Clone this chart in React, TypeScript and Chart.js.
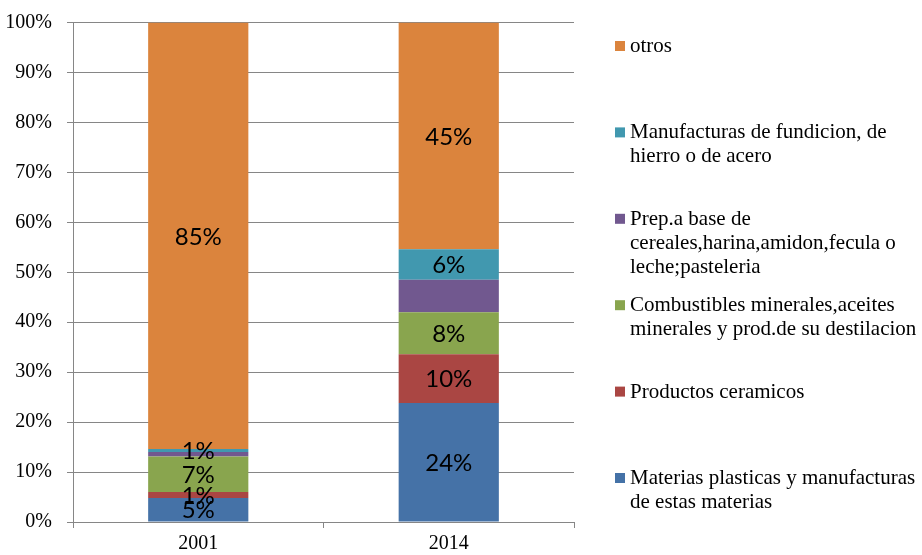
import React, { useEffect, useRef } from "react";
import { Chart, registerables } from "chart.js";

Chart.register(...registerables);

const categories = ["2001", "2014"];

const seriesNames = [
  "Materias plasticas y manufacturas de estas materias",
  "Productos ceramicos",
  "Combustibles minerales,aceites minerales y prod.de su destilacion",
  "Prep.a base de cereales,harina,amidon,fecula o leche;pasteleria",
  "Manufacturas de fundicion, de hierro o de acero",
  "otros",
];

const legendLines = [
  ["Materias plasticas y manufacturas", "de estas materias"],
  ["Productos ceramicos"],
  ["Combustibles minerales,aceites", "minerales y prod.de su destilacion"],
  ["Prep.a base de", "cereales,harina,amidon,fecula o", "leche;pasteleria"],
  ["Manufacturas de fundicion, de", "hierro o de acero"],
  ["otros"],
];

const materiasPlasticas = [4.8, 23.8];
const productosCeramicos = [1.2, 9.8];
const combustibles = [7.1, 8.4];
const prepCereales = [0.9, 6.5];
const manufacturasHierro = [0.6, 6.1];
const otros = [85.4, 45.4];

const seriesValues = [
  materiasPlasticas,
  productosCeramicos,
  combustibles,
  prepCereales,
  manufacturasHierro,
  otros,
];

const showValueLabels = [true, true, true, false, true, true];

const colors = ["#4572A7", "#AA4643", "#89A54E", "#71588F", "#4198AF", "#DB843D"];

const yTicks = [0, 10, 20, 30, 40, 50, 60, 70, 80, 90, 100];

const valueLabelPlugin = {
  id: "valueLabels",
  afterDatasetsDraw(chart: any) {
    const ctx = chart.ctx;
    ctx.save();
    ctx.font = "24px Lato";
    ctx.fillStyle = "#000000";
    ctx.textAlign = "center";
    ctx.textBaseline = "middle";
    chart.data.datasets.forEach((ds: any, di: number) => {
      if (!showValueLabels[di]) return;
      const meta = chart.getDatasetMeta(di);
      meta.data.forEach((el: any, i: number) => {
        const { x, y, base } = el.getProps(["x", "y", "base"], true);
        const v = ds.data[i];
        ctx.fillText(Math.round(v) + "%", x, (y + base) / 2 + 1);
      });
    });
    ctx.restore();
  },
};

const legendPlugin = {
  id: "sideLegend",
  afterDraw(chart: any) {
    const ctx = chart.ctx;
    ctx.save();
    ctx.font = '21px "Liberation Serif"';
    ctx.textAlign = "left";
    ctx.textBaseline = "middle";
    const n = chart.data.datasets.length;
    const top = 46.5;
    const step = 86.4;
    const lineH = 24;
    for (let k = 0; k < n; k++) {
      const di = n - 1 - k;
      const ds = chart.data.datasets[di];
      const yc = top + k * step;
      ctx.fillStyle = ds.backgroundColor;
      ctx.fillRect(615, yc - 5.5, 10, 10);
      ctx.fillStyle = "#000000";
      legendLines[di].forEach((line: string, li: number) => {
        ctx.fillText(line, 630, yc + li * lineH);
      });
    }
    ctx.restore();
  },
};

export default function App() {
  const ref = useRef<HTMLCanvasElement | null>(null);
  useEffect(() => {
    if (!ref.current) return;
    const chart = new Chart(ref.current, {
      type: "bar",
      data: {
        labels: categories,
        datasets: seriesNames.map((name, i) => ({
          label: name,
          data: seriesValues[i],
          backgroundColor: colors[i],
          borderWidth: 0,
          barPercentage: 0.4,
          categoryPercentage: 1,
        })),
      },
      options: {
        animation: false,
        responsive: false,
        devicePixelRatio: 1,
        layout: { padding: { top: 22.5, right: 348, left: 0, bottom: 0 } },
        plugins: {
          legend: { display: false },
          tooltip: { enabled: false },
        },
        scales: {
          x: {
            stacked: true,
            afterFit: (s: any) => {
              s.height = 33;
              s.paddingLeft = 0;
              s.paddingRight = 0;
            },
            border: { color: "#868686", width: 1 },
            grid: {
              drawOnChartArea: false,
              drawTicks: true,
              tickLength: 6,
              color: "#868686",
              offset: true,
            },
            ticks: {
              color: "#000000",
              font: { family: "Liberation Serif", size: 20 },
              padding: 4,
            },
          },
          y: {
            stacked: true,
            min: 0,
            max: 100,
            afterFit: (s: any) => {
              s.width = 73;
              s.paddingTop = 0;
              s.paddingBottom = 0;
            },
            afterBuildTicks: (s: any) => {
              s.ticks = yTicks.map((v) => ({ value: v }));
            },
            border: { color: "#868686", width: 1 },
            grid: {
              color: "#868686",
              lineWidth: 1,
              tickLength: 6,
            },
            ticks: {
              color: "#000000",
              font: { family: "Liberation Serif", size: 20 },
              padding: 15,
              callback: (v: any) => v + "%",
            },
          },
        },
      },
      plugins: [valueLabelPlugin, legendPlugin],
    });
    return () => chart.destroy();
  }, []);
  return (
    <div style={{ position: "fixed", left: 0, top: 0, width: 922, height: 555, background: "#ffffff" }}>
      <canvas ref={ref} width={922} height={555} />
    </div>
  );
}
